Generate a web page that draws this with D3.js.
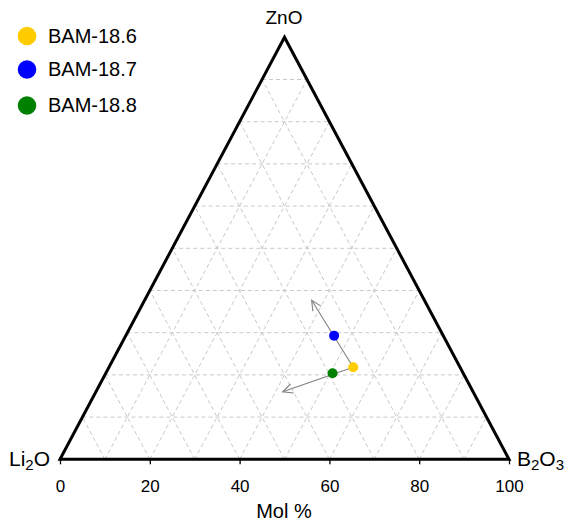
<!DOCTYPE html>
<html><head><meta charset="utf-8">
<script src="https://cdn.jsdelivr.net/npm/d3@7"></script>
<style>body{margin:0;background:#fff}svg{display:block;font-family:"Liberation Sans",Arial,sans-serif}</style>
</head><body>
<svg id="c" width="567" height="524"></svg>
<script>
const samples = ["BAM-18.6", "BAM-18.7", "BAM-18.8"];
const li2o = [23.8, 24.3, 29.1];
const zno = [21.8, 29.3, 20.4];
const b2o3 = [54.4, 46.4, 50.5];
const colors = ["#FFCC00", "#0000FF", "#008000"];
// arrows: start sample index, end composition (Li2O, ZnO, B2O3)
const arrowFrom = [0, 0];
const arrowLi2o = [25.1, 42.4];
const arrowZno = [37.7, 16.0];
const arrowB2o3 = [37.2, 41.6];
const tickValues = [0, 20, 40, 60, 80, 100];
const gridLevels = [10, 20, 30, 40, 50, 60, 70, 80, 90];

const svg = d3.select("#c");
const xs = d3.scaleLinear().domain([0, 100]).range([60, 509]);
const ys = d3.scaleLinear().domain([0, 100]).range([459.3, 37.3]);
// ternary -> pixel (b = B2O3 %, z = ZnO %)
function P(b, z) { return [xs(b + z / 2), ys(z)]; }

// grid
const g = svg.append("g").attr("stroke", "#c8c8c8").attr("stroke-width", 1).attr("stroke-dasharray", "4,3").attr("fill", "none");
const seg = (a, b) => g.append("line").attr("x1", a[0]).attr("y1", a[1]).attr("x2", b[0]).attr("y2", b[1]);
gridLevels.forEach(k => {
  seg(P(0, k), P(100 - k, k));           // constant ZnO
  seg(P(k, 0), P(k, 100 - k));           // constant B2O3
  seg(P(100 - k, 0), P(0, 100 - k));     // constant Li2O
});

// triangle
const tri = [P(0, 0), P(100, 0), P(0, 100)];
svg.append("path").attr("d", "M" + tri.map(p => p.join(",")).join("L") + "Z")
  .attr("fill", "none").attr("stroke", "#000").attr("stroke-width", 3).attr("stroke-linejoin", "miter");

// axis
const ax = svg.append("g").attr("transform", "translate(0,459.3)")
  .call(d3.axisBottom(xs).tickValues(tickValues).tickSize(5).tickFormat(d3.format("d")));
ax.select(".domain").remove();
ax.selectAll(".tick line").attr("stroke", "#000").attr("stroke-width", 1.3);
ax.selectAll(".tick text").attr("font-size", 17).attr("fill", "#000")
  .attr("font-family", "Liberation Sans, Arial, sans-serif").attr("y", 32.7).attr("dy", null);

svg.append("text").attr("x", 284).attr("y", 517.5).attr("text-anchor", "middle").attr("font-size", 20).text("Mol %");

// corner labels
svg.append("text").attr("x", 284).attr("y", 23.5).attr("text-anchor", "middle").attr("font-size", 19).text("ZnO");
const li = svg.append("text").attr("x", 9).attr("y", 466).attr("font-size", 21);
li.append("tspan").text("Li");
li.append("tspan").attr("font-size", 15).attr("dy", 4).text("2");
li.append("tspan").attr("dy", -4).text("O");
const bo = svg.append("text").attr("x", 517).attr("y", 466).attr("font-size", 21);
bo.append("tspan").text("B");
bo.append("tspan").attr("font-size", 15).attr("dy", 4).text("2");
bo.append("tspan").attr("dy", -4).text("O");
bo.append("tspan").attr("font-size", 15).attr("dy", 4).text("3");

// arrows
arrowFrom.forEach((si, i) => {
  const a = P(b2o3[si], zno[si]);
  const b = P(arrowB2o3[i], arrowZno[i]);
  svg.append("line").attr("x1", a[0]).attr("y1", a[1]).attr("x2", b[0]).attr("y2", b[1])
    .attr("stroke", "#808080").attr("stroke-width", 1.1);
  const ang = Math.atan2(a[1] - b[1], a[0] - b[0]);
  const L = 11, w = 0.45;
  const p1 = [b[0] + L * Math.cos(ang + w), b[1] + L * Math.sin(ang + w)];
  const p2 = [b[0] + L * Math.cos(ang - w), b[1] + L * Math.sin(ang - w)];
  svg.append("path").attr("d", `M${p1}L${b}L${p2}`).attr("fill", "none").attr("stroke", "#808080").attr("stroke-width", 1.1);
});

// points
samples.forEach((s, i) => {
  const p = P(b2o3[i], zno[i]);
  svg.append("circle").attr("cx", p[0]).attr("cy", p[1]).attr("r", 5).attr("fill", colors[i]);
});

// legend
const legY = [36, 69.5, 105.5];
samples.forEach((s, i) => {
  svg.append("circle").attr("cx", 27).attr("cy", legY[i]).attr("r", 9.3).attr("fill", colors[i]);
  svg.append("text").attr("x", 48).attr("y", legY[i] + 6.5).attr("font-size", 20).text(s);
});
</script>
</body></html>
